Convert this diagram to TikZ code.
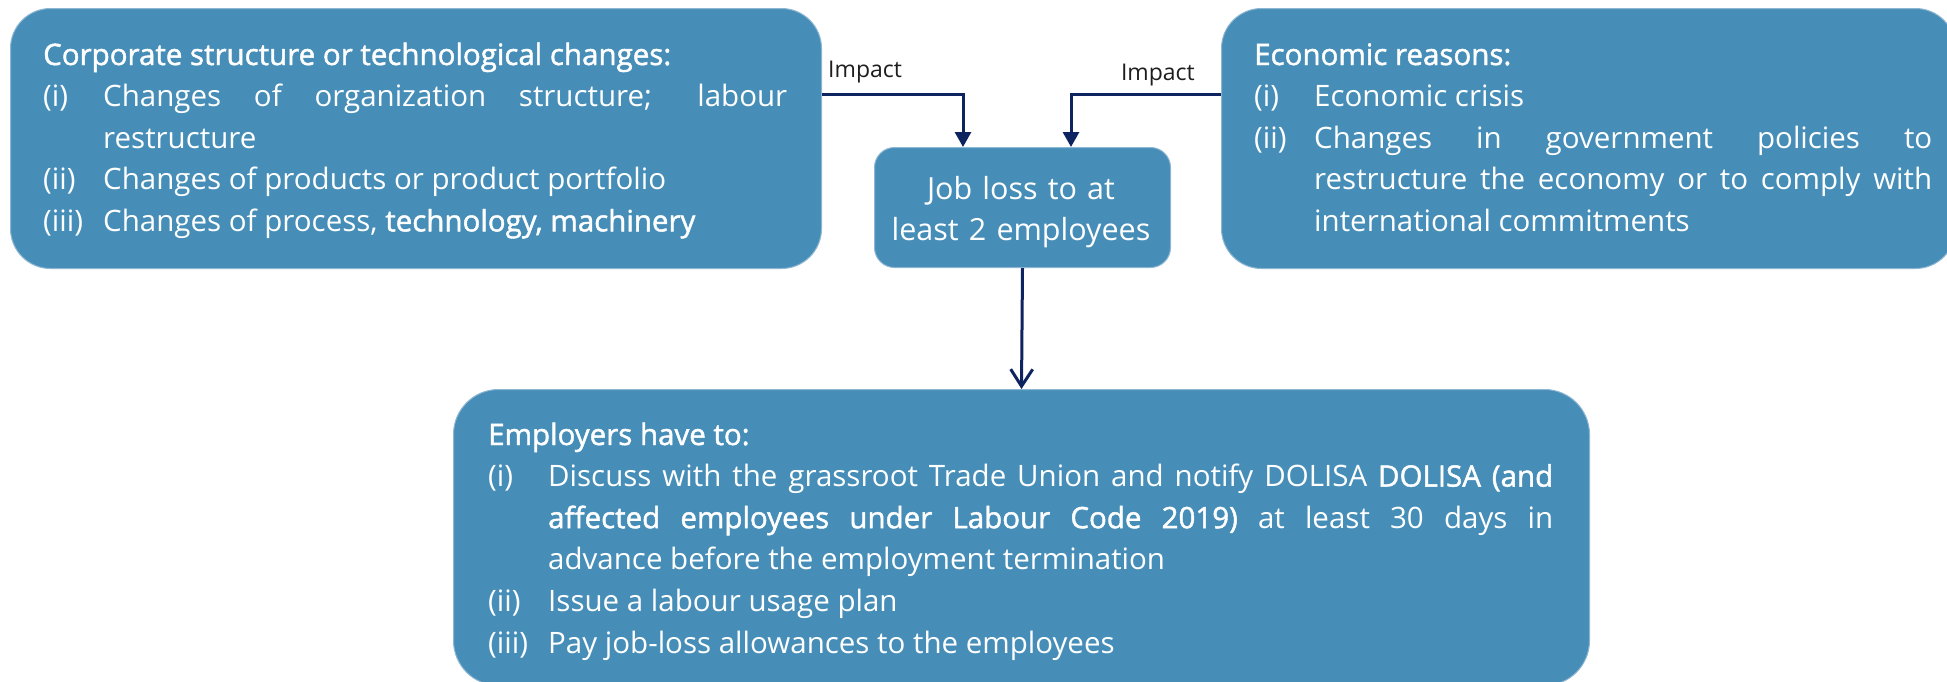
\documentclass[tikz,border=0pt]{standalone}
\usepackage{fontspec}
\setmainfont{Open Sans}
\newfontfamily\strongfont[FakeBold=1.5]{Open Sans}
\usetikzlibrary{arrows.meta}

\definecolor{boxblue}{RGB}{70,142,184}
\definecolor{boxedge}{RGB}{140,182,210}
\definecolor{linknavy}{RGB}{14,36,96}
\definecolor{labelgrey}{RGB}{30,30,30}

% list entry with a hanging label column
\newcommand\listentry[2]{\par\noindent\hangindent=60pt\hangafter=1\makebox[60pt][l]{#1}#2\par}

\tikzset{
  panel/.style={fill=boxblue, draw=boxedge, line width=1pt, rounded corners=40pt,
                inner sep=0pt, anchor=north west},
  paneltext/.style={text=white, anchor=base west, inner sep=0pt, align=justify,
                font=\fontsize{29.5}{41.6}\selectfont},
  conn/.style={draw=linknavy, line width=3pt},
  filledtip/.style={-{Triangle[length=15pt,width=16pt]}},
  opentip/.style={-{Straight Barb[length=17pt,width=22pt,line width=3pt]}},
  impactlabel/.style={text=labelgrey, inner sep=0pt, font=\fontsize{23}{28}\selectfont}
}

\begin{document}
\begin{tikzpicture}[x=1pt,y=-1pt]
\fill[white] (0,0) rectangle (1947,681);
\useasboundingbox (0,0) rectangle (1947,681);

% boxes
\node[panel, minimum width=811pt, minimum height=260pt] (corp) at (10,8) {};
\node[panel, minimum width=734pt, minimum height=260pt] (econ) at (1221,8) {};
\node[panel, rounded corners=20pt, minimum width=296pt, minimum height=120pt] (job) at (874,147) {};
\node[panel, rounded corners=45pt, minimum width=1136pt, minimum height=296pt] (empl) at (453,389) {};

% box contents
\node[paneltext, text width=744pt] (corptext) at (43,65) {\hyphenpenalty=10000
  {\strongfont Corporate structure or technological changes:}\par
  \listentry{(i)}{Changes of organization structure; labour\linebreak restructure}
  \listentry{(ii)}{Changes of products or product portfolio}
  \listentry{(iii)}{Changes of process, {\strongfont technology, machinery}}};

\node[paneltext, text width=678pt] (econtext) at (1254,65) {\hyphenpenalty=10000
  {\strongfont Economic reasons:}\par
  \listentry{(i)}{Economic crisis}
  \listentry{(ii)}{Changes in government policies to\linebreak restructure the economy or to comply with\linebreak international commitments}};

\node[text=white, inner sep=0pt, text width=290pt, align=center, anchor=base,
      font=\fontsize{30.5}{41}\selectfont] (jobtext) at (1021,199)
  {Job loss to at\\least 2 employees};

\node[paneltext, text width=1065pt] (empltext) at (488,445) {\hyphenpenalty=10000
  {\strongfont Employers have to:}\par
  \listentry{(i)}{Discuss with the grassroot Trade Union and notify DOLISA {\strongfont DOLISA (and}\linebreak {\strongfont affected employees under Labour Code 2019)} at least 30 days in\linebreak advance before the employment termination}
  \listentry{(ii)}{Issue a labour usage plan}
  \listentry{(iii)}{Pay job-loss allowances to the employees}};

% connectors
\coordinate (leftbend) at (963,94);
\coordinate (rightbend) at (1071,94);
\draw[conn, filledtip] (corp.east |- leftbend) -| (job.north -| leftbend);
\draw[conn, filledtip] (econ.west |- rightbend) -| (job.north -| rightbend);
\draw[conn, opentip] (job.south) -- (empl.north);

\node[impactlabel, anchor=base west] (impactleft) at (828,77) {Impact};
\node[impactlabel, anchor=base east] (impactright) at (1195,80) {Impact};
\end{tikzpicture}
\end{document}
